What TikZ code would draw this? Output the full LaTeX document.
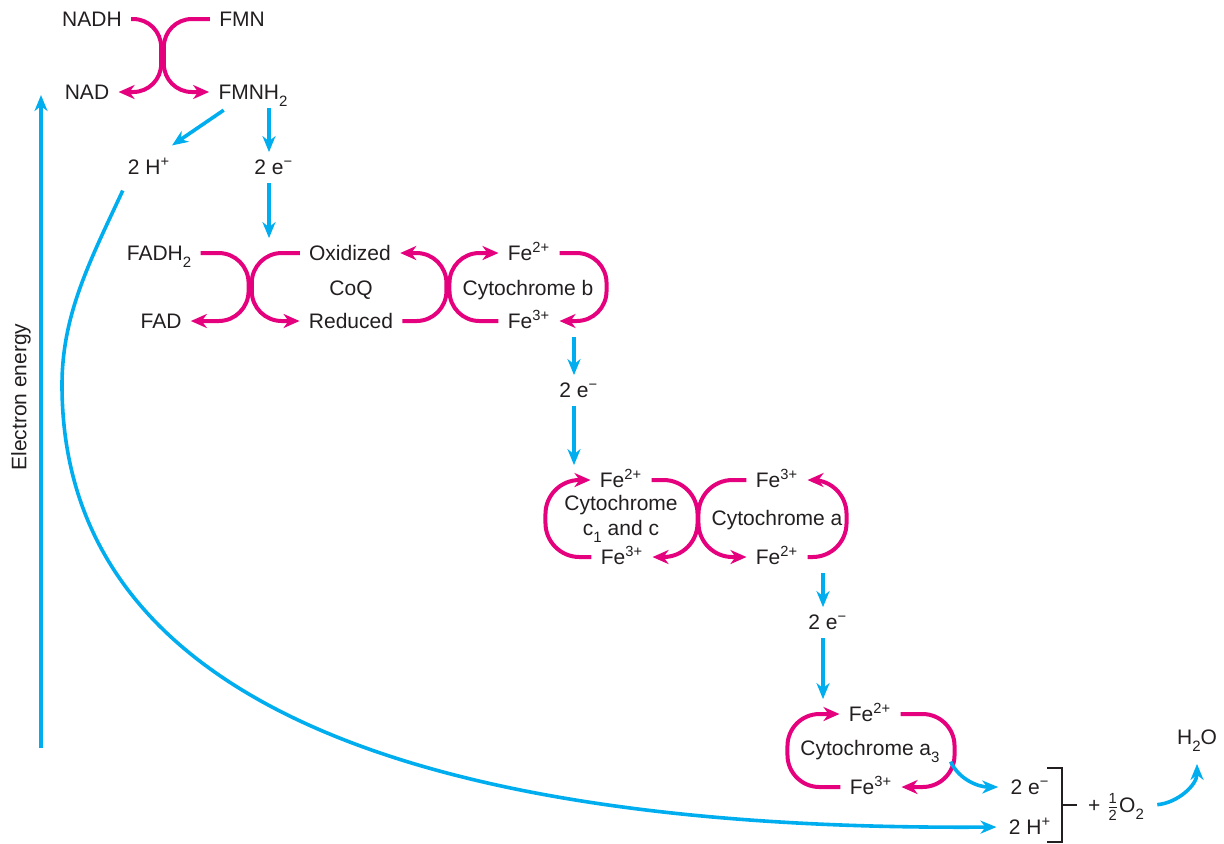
\documentclass[tikz,border=0pt]{standalone}
\usepackage{amsmath}
\usepackage{fontspec}
\setmainfont{Liberation Sans}
\usepackage{tikz}
\usetikzlibrary{arrows.meta}
\definecolor{redoxc}{HTML}{E5007D}
\definecolor{flowc}{HTML}{00AEEF}
\definecolor{inkc}{HTML}{231F20}
\newcommand{\chemsup}[1]{\textsuperscript{#1}}
\newcommand{\chemsub}[1]{\raisebox{-3.3pt}{\fontsize{7.5pt}{8pt}\selectfont #1}}

\begin{document}
\begin{tikzpicture}[x=0.5pt, y=-0.5pt,
    txt/.style={text=inkc, font=\fontsize{10.5pt}{12.5pt}\selectfont, inner xsep=4.5pt, inner ysep=2pt},
    lbl/.style={txt, text height=7.5pt, text depth=0pt},
    redox/.style={draw=redoxc, line width=2pt, rounded corners=15pt,
                  -{Stealth[length=8pt, width=7pt, inset=2.5pt]}},
    flow/.style={draw=flowc, line width=1.8pt, shorten <=2pt, shorten >=1.5pt,
                 -{Stealth[length=8pt, width=6.5pt, inset=2.5pt]}},
    brkt/.style={draw=inkc, line width=0.8pt}]
    \useasboundingbox (0,0) rectangle (1224,843);

    % NADH / FMN
    \node[lbl] (nadh) at (92,19) {NADH};
    \node[lbl] (fmn) at (242,19) {FMN};
    \node[lbl] (nad) at (87,92) {NAD};
    \node[lbl] (fmnh) at (253,92) {FMNH\chemsub{2}};
    \node[lbl] (twoh) at (149,167) {2 H\chemsup{+}};
    \node[lbl] (twoe) at (269,167) {2 e\rlap{\chemsup{−}}};
    \draw[redox, rounded corners=14pt] (nadh.east) -- ++(30,0) |- (nad.east);
    \draw[redox, rounded corners=14pt] (fmn.west) -- ++(-46,0) |- (fmnh.west);
    \draw[flow] ([xshift=-13pt, yshift=-2pt]fmnh.south) -- ([xshift=-5pt, yshift=4pt]twoh.north east);
    \draw[flow] (fmnh.south -| twoe.north) -- (twoe.north);

    % CoQ and cytochrome b
    \node[lbl] (fadh) at (159,253) {FADH\chemsub{2}};
    \node[lbl] (fad) at (161,321) {FAD};
    \node[lbl] (oxid) at (350,253) {Oxidized};
    \node[lbl] (coq) at (351,288) {CoQ};
    \node[lbl] (red) at (351,321) {Reduced};
    \node[lbl] (feb2) at (529,253) {Fe\chemsup{2+}};
    \node[lbl] (cytb) at (528,288) {Cytochrome b};
    \node[lbl] (feb3) at (529,321) {Fe\chemsup{3+}};
    \draw[flow] (twoe.south) -- (twoe.south |- oxid.north);
    \draw[redox] (fadh.east) -- ++(48,0) |- (fad.east);
    \draw[redox] (oxid.west) -- ++(-48,0) |- (red.west);
    \draw[redox] (red.east) -- ++(44,0) |- (oxid.east);
    \draw[redox] (feb3.west) -- ++(-49,0) |- (feb2.west);
    \draw[redox] (feb2.east) -- ++(47,0) |- (feb3.east);

    % cytochromes c1, c and a
    \node[lbl] (twob) at (574,390) {2 e\rlap{\chemsup{−}}};
    \node[lbl] (fec2) at (621,480) {Fe\chemsup{2+}};
    \node[txt, align=center] (cytc) at (621,519) {Cytochrome\\c\chemsub{1} and c};
    \node[lbl] (fec3) at (622,557) {Fe\chemsup{3+}};
    \node[lbl] (fea3) at (777,480) {Fe\chemsup{3+}};
    \node[lbl] (cyta) at (777,518) {Cytochrome a};
    \node[lbl] (fea2) at (777,557) {Fe\chemsup{2+}};
    \draw[flow] (feb3.south -| twob.north) -- (twob.north);
    \draw[flow] (twob.south) -- (twob.south |- fec2.north);
    \draw[redox, rounded corners=17pt] (fec3.west) -- ++(-46,0) |- (fec2.west);
    \draw[redox, rounded corners=17pt] (fec2.east) -- ++(46,0) |- (fec3.east);
    \draw[redox, rounded corners=17pt] (fea3.west) -- ++(-48,0) |- (fea2.west);
    \draw[redox, rounded corners=17pt] (fea2.east) -- ++(39,0) |- (fea3.east);

    % cytochrome a3 and oxygen
    \node[lbl] (twoa) at (823,622) {2 e\rlap{\chemsup{−}}};
    \node[lbl] (fed2) at (870,714) {Fe\chemsup{2+}};
    \node[lbl] (cyta3) at (870,748) {Cytochrome a\chemsub{3}};
    \node[lbl] (fed3) at (871,787) {Fe\chemsup{3+}};
    \node[lbl] (twoeo) at (1030,787) {2 e\chemsup{−}};
    \node[lbl] (twohw) at (1030,827) {2 H\chemsup{+}};
    \node[lbl] (ohalf) at (1116,805) {+ $\frac{\text{1}}{\text{2}}$O\chemsub{2}};
    \node[lbl] (water) at (1197,737) {H\chemsub{2}O};
    \draw[flow] (fea2.south -| twoa.north) -- (twoa.north);
    \draw[flow] (twoa.south) -- (twoa.south |- fed2.north);
    \draw[redox, rounded corners=16pt] (fed3.west) -- ++(-53,0) |- (fed2.west);
    \draw[redox, rounded corners=16pt] (fed2.east) -- ++(54,0) |- (fed3.east);
    \draw[flow] ([yshift=-5pt]cyta3.east) to[out=-65, in=180] (twoeo.west);
    \draw[brkt] (1047,768) -- (1062,768) -- (1062,842) -- (1047,842) (1062,805) -- (1077,805);
    \draw[flow] (ohalf.east) to[out=5, in=-90] ([yshift=-6pt]water.south);

    % proton return and energy axis
    \coordinate (bend) at (62,385);
    \draw[flow] ([xshift=3pt, yshift=-4pt]twoh.south west) .. controls +(-35,75) and +(0,-70) .. (bend)
        .. controls +(0,325) and +(-561,4) .. (twohw.west);
    \coordinate (ebase) at (41,748);
    \coordinate (etop) at (41,95);
    \draw[flow, shorten <=0pt, shorten >=0pt] (ebase) -- (etop);
    \node[txt, rotate=90] (energy) at (21,397) {Electron energy};
\end{tikzpicture}
\end{document}
